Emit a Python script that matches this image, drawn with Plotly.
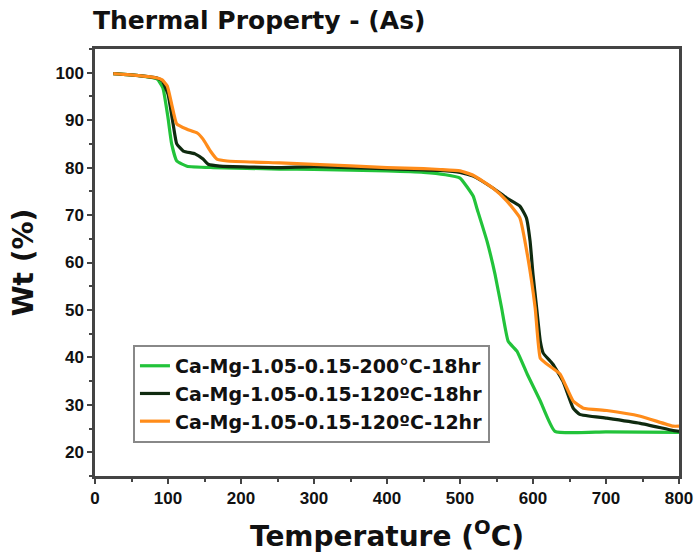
import plotly.graph_objects as go

# Green: Ca-Mg-1.05-0.15-200°C-18hr
green_x = [25, 60, 85, 93, 100, 105, 112, 126, 162, 253, 300, 400, 450, 480, 500, 518, 523, 537, 548, 557, 566, 578, 592, 610, 630, 700, 800]
green_y = [99.8, 99.4, 98.7, 96.8, 90.5, 85.0, 81.4, 80.3, 80.0, 79.7, 79.6, 79.3, 79.0, 78.5, 77.8, 74.0, 71.5, 64.5, 57.5, 50.4, 43.4, 41.3, 36.5, 30.8, 24.4, 24.3, 24.2]

# Dark: Ca-Mg-1.05-0.15-120°C-18hr
black_x = [25, 60, 85, 92, 100, 107, 112, 121, 137, 148, 155, 171, 253, 300, 450, 473, 500, 518, 545, 564, 582, 591, 596, 600, 605, 610, 614, 627, 641, 655, 664, 701, 747, 792, 800]
black_y = [99.8, 99.4, 98.9, 98.3, 95.5, 89.2, 85.0, 83.5, 82.9, 81.8, 80.7, 80.3, 80.0, 80.2, 79.5, 79.4, 79.0, 78.2, 75.7, 73.6, 71.9, 69.4, 64.5, 57.5, 50.4, 43.4, 40.9, 38.6, 35.0, 29.3, 28.0, 27.2, 26.1, 24.6, 24.4]

# Orange: Ca-Mg-1.05-0.15-120°C-12hr
orange_x = [25, 60, 85, 92, 99, 105, 112, 126, 140, 148, 158, 167, 181, 253, 300, 400, 450, 473, 500, 518, 545, 564, 582, 593, 603, 610, 619, 637, 655, 669, 701, 747, 792, 800]
orange_y = [99.8, 99.4, 98.9, 98.5, 97.2, 93.4, 89.2, 88.1, 87.3, 86.0, 83.5, 81.8, 81.4, 81.0, 80.7, 80.0, 79.8, 79.6, 79.3, 78.4, 75.7, 73.0, 69.4, 61.0, 50.4, 39.8, 38.6, 36.5, 30.8, 29.3, 28.8, 27.6, 25.5, 25.5]

series_names = [
    "Ca-Mg-1.05-0.15-200°C-18hr",
    "Ca-Mg-1.05-0.15-120ºC-18hr",
    "Ca-Mg-1.05-0.15-120ºC-12hr",
]
series_colors = ["#22c33a", "#0f2a0f", "#ff8c1a"]

x_ticks = [0, 100, 200, 300, 400, 500, 600, 700, 800]
y_ticks = [20, 30, 40, 50, 60, 70, 80, 90, 100]

FONT = "Liberation Sans, Arial, sans-serif"
WIDE = "DejaVu Sans, Verdana, sans-serif"

fig = go.Figure()
for xs, ys, name, color in zip([green_x, black_x, orange_x], [green_y, black_y, orange_y], series_names, series_colors):
    fig.add_trace(go.Scatter(x=xs, y=ys, mode="lines", name=name,
                             line=dict(color=color, width=3.2, shape="spline", smoothing=0.4)))

axis_common = dict(
    showline=True, linecolor="#444444", linewidth=2.5, mirror=True,
    ticks="outside", ticklen=5, tickwidth=2, tickcolor="#444444",
    showgrid=False, zeroline=False, automargin=False,
    tickfont=dict(family=FONT, size=17, color="#111111", weight="bold"),
)

fig.update_xaxes(range=[0, 800], tickvals=x_ticks,
                 minor=dict(dtick=50, ticks="outside", ticklen=3, tickwidth=2, tickcolor="#444444"),
                 title=dict(text="Temperature (<sup>O</sup>C)", font=dict(family=WIDE, size=28, color="#111111", weight="bold"), standoff=20),
                 **axis_common)
fig.update_yaxes(range=[15, 105], tickvals=y_ticks,
                 minor=dict(dtick=5, ticks="outside", ticklen=3, tickwidth=2, tickcolor="#444444"),
                 title=dict(text="Wt (%)", font=dict(family=WIDE, size=28, color="#111111", weight="bold"), standoff=14),
                 **axis_common)

fig.update_layout(
    width=697, height=559,
    margin=dict(l=95, r=18, t=49, b=83),
    paper_bgcolor="white", plot_bgcolor="white",
    title=dict(text="Thermal Property - (As)", x=93/697, xanchor="left", y=1 - 20/559, yanchor="middle",
               font=dict(family=WIDE, size=25, color="#111111", weight="bold")),
    legend=dict(x=0.065, y=0.307, xanchor="left", yanchor="top",
                bordercolor="#888888", borderwidth=2, bgcolor="white",
                font=dict(family=WIDE, size=19, color="#111111", weight="bold"),
                tracegroupgap=0, itemwidth=30),
    showlegend=True,
)

fig.write_html("out.html", config={"displayModeBar": False},
               post_script="document.body.style.margin='0px';")
